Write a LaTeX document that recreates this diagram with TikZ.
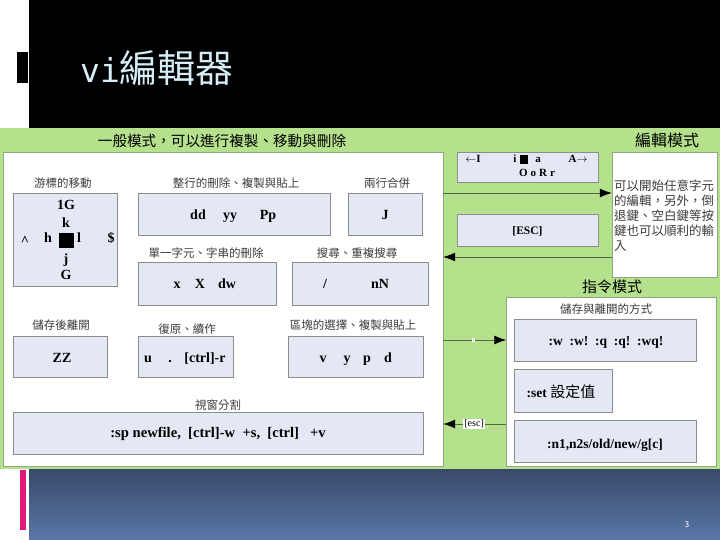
\documentclass[tikz,border=0pt]{standalone}
\usepackage{fontspec}
\setmainfont{Liberation Serif}
\newfontfamily\cjk{Noto Sans CJK TC}
\newfontfamily\vimono{DejaVu Sans Mono}
\usepackage{tikz}
\usetikzlibrary{arrows.meta}
\definecolor{VIGreen}{HTML}{B5E18C}
\definecolor{VIBox}{HTML}{E3E8F4}
\definecolor{VIBoxLine}{HTML}{8C8C8C}
\definecolor{VIPanelLine}{HTML}{8FA882}
\definecolor{VIFlow}{HTML}{4E6A42}
\definecolor{VITitle}{HTML}{D6EDF7}
\definecolor{VIText}{HTML}{3C3C3C}
\definecolor{VIPink}{HTML}{E0197A}
\definecolor{VIBandTop}{HTML}{394A69}
\definecolor{VIBandBot}{HTML}{5A77A8}

\begin{document}
\begin{tikzpicture}[x=1pt,y=-1pt,
  panel/.style={draw=VIPanelLine,fill=white,inner sep=0pt},
  keybox/.style={draw=VIBoxLine,fill=VIBox,inner sep=0pt},
  vikey/.style={anchor=base,inner sep=0pt,font=\fontsize{14}{16}\selectfont\bfseries},
  inskey/.style={anchor=base,inner sep=0pt,font=\fontsize{11}{13}\selectfont\bfseries},
  boxcap/.style={inner sep=0pt,text=VIText,font=\cjk\fontsize{11.5}{13}\selectfont},
  modetitle/.style={inner sep=0pt,font=\cjk\fontsize{15}{17}\selectfont},
  flow/.style={draw=VIFlow,line width=0.8pt,-{Latex[length=12pt,width=9pt,color=black]}}]
\path[use as bounding box] (0,0) rectangle (720,540);
% slide frame
\fill[black] (29,0) rectangle (720,128);
\fill[black] (17,52) rectangle (28,83);
\node[anchor=base west,inner sep=0pt,text=VITitle] (title) at (80,83)
  {{\vimono\fontsize{33}{35}\selectfont vi}{\cjk\fontsize{38}{40}\selectfont 編輯器}};
\fill[VIGreen] (0,128) rectangle (720,469);
\shade[top color=VIBandTop,bottom color=VIBandBot] (29,469) rectangle (720,540);
\fill[VIPink] (20,470) rectangle (26,530);
\node[inner sep=0pt,text=white,font=\sffamily\fontsize{9}{10}\selectfont] (pagenum) at (687,525) {3};

% panels
\node[panel,minimum width=440,minimum height=314] (gen) at (223,309) {};
\node[panel,minimum width=105,minimum height=125] (edit) at (664.5,214.5) {};
\node[panel,minimum width=210,minimum height=169] (cmd) at (611.5,381.5) {};
\node[modetitle,font=\cjk\fontsize{14.6}{16}\selectfont] (gentitle) at (222,141) {一般模式，可以進行複製、移動與刪除};
\node[modetitle,font=\cjk\fontsize{16}{18}\selectfont] (edittitle) at (667,140) {編輯模式};
\node[modetitle] (cmdtitle) at (612,287) {指令模式};

% normal mode
\node[boxcap] (capmove) at (63,183) {游標的移動};
\node[boxcap] (capline) at (236,183) {整行的刪除、複製與貼上};
\node[boxcap] (capjoin) at (387,183) {兩行合併};
\node[boxcap] (capchar) at (206,253) {單一字元、字串的刪除};
\node[boxcap] (capfind) at (357,253) {搜尋、重複搜尋};
\node[boxcap] (capsave) at (61,325) {儲存後離開};
\node[boxcap] (capundo) at (187,329) {復原、續作};
\node[boxcap] (capblock) at (353,325) {區塊的選擇、複製與貼上};
\node[boxcap] (capsplit) at (218,405) {視窗分割};

\node[keybox,minimum width=104,minimum height=93] (move) at (65,239.5) {};
\node[keybox,minimum width=192,minimum height=42] (line) at (234,214) {};
\node[keybox,minimum width=74,minimum height=42] (join) at (385,214) {};
\node[keybox,minimum width=138,minimum height=43] (char) at (207,283.5) {};
\node[keybox,minimum width=136,minimum height=43] (find) at (360,283.5) {};
\node[keybox,minimum width=94,minimum height=41] (save) at (60,356.5) {};
\node[keybox,minimum width=95,minimum height=41] (undo) at (185.5,356.5) {};
\node[keybox,minimum width=135,minimum height=41] (block) at (355.5,356.5) {};
\node[keybox,minimum width=410,minimum height=42] (split) at (218,433) {};

\node[vikey] (kgg) at (66,210) {1G};
\node[vikey] (kk) at (66,227) {k};
\node[vikey] (kcaret) at (25,245) {\textasciicircum};
\node[vikey] (kh) at (48,243) {h};
\fill[black] (59,233) rectangle (74,248);
\node[vikey] (kl) at (79,243) {l};
\node[vikey] (kdollar) at (111,243) {\$};
\node[vikey] (kj) at (66,263) {j};
\node[vikey] (kG) at (66,279) {G};

\node[vikey] (kdd) at (198,220) {dd};
\node[vikey] (kyy) at (230,220) {yy};
\node[vikey] (kPp) at (268,220) {Pp};
\node[vikey] (kJ) at (385,220) {J};
\node[vikey] (kx) at (177,288) {x};
\node[vikey] (kX) at (200,288) {X};
\node[vikey] (kdw) at (227,288) {dw};
\node[vikey] (kslash) at (325,288) {/};
\node[vikey] (knN) at (380,288) {nN};
\node[vikey] (kZZ) at (62,362) {ZZ};
\node[vikey] (ku) at (148,362) {u};
\node[vikey] (kdot) at (170,362) {.};
\node[vikey] (kredo) at (205,362) {[ctrl]-r};
\node[vikey] (kv) at (323,362) {v};
\node[vikey] (ky) at (347,362) {y};
\node[vikey] (kp) at (367,362) {p};
\node[vikey] (kd) at (388,362) {d};
\node[vikey,font=\fontsize{14.6}{16}\selectfont\bfseries] (ksp) at (218,437) {:sp newfile,\ \ [ctrl]-w\ \ +s,\ \ [ctrl]\ \ \ +v};

% insert mode
\node[keybox,minimum width=141,minimum height=30] (ins) at (527.5,167) {};
\node[keybox,minimum width=141,minimum height=32] (esc) at (527.5,230) {};
\node[inskey] (kI) at (473,163) {$\leftarrow$I};
\node[inskey] (ki) at (515,163) {i};
\fill[black] (520,155) rectangle (528,164);
\node[inskey] (ka) at (538,163) {a};
\node[inskey] (kA) at (578,163) {A$\rightarrow$};
\node[inskey] (kOoRr) at (537,177) {O\hspace{3pt}o\hspace{3pt}R\hspace{3pt}r};
\node[vikey,font=\fontsize{11.5}{13}\selectfont\bfseries] (kesc) at (527.5,234) {[ESC]};
\node[anchor=north west,inner sep=0pt,align=left,text=VIText,
  font=\cjk\fontsize{12.5}{15}\selectfont] (edittxt) at (614,180)
  {可以開始任意字元\\的編輯，另外，倒\\退鍵、空白鍵等按\\鍵也可以順利的輸\\入};

% command mode
\node[boxcap] (capcmd) at (606,309) {儲存與離開的方式};
\node[keybox,minimum width=182,minimum height=42] (wq) at (605,340) {};
\node[keybox,minimum width=98,minimum height=43] (set) at (563,390.5) {};
\node[keybox,minimum width=182,minimum height=42] (sub) at (605,441) {};
\node[vikey,font=\fontsize{13.5}{15}\selectfont\bfseries] (kwq) at (606,345) {:w\ \ :w!\ \ :q\ \ :q!\ \ :wq!};
\node[vikey,font=\fontsize{13.5}{15}\selectfont\bfseries] (kset) at (561,397) {:set\ {\cjk\mdseries\fontsize{15}{16}\selectfont 設定值}};
\node[vikey,font=\fontsize{13.5}{15}\selectfont\bfseries] (ksub) at (605,448) {:n1,n2s/old/new/g[c]};

% mode switches
\draw[flow] (gen.east |- 0,193) -- (edit.west |- 0,193);
\draw[flow] (edit.west |- 0,257) -- (gen.east |- 0,257);
\draw[flow] (gen.east |- 0,340) -- node[pos=0.48,fill=white,inner sep=0.6pt,text=VIText,font=\tiny] (colon) {:} (cmd.west |- 0,340);
\draw[flow] (cmd.west |- 0,424) -- node[pos=0.51,fill=white,inner sep=1pt,font=\fontsize{10}{11}\selectfont] (esclab) {[esc]} (gen.east |- 0,424);
\end{tikzpicture}
\end{document}
